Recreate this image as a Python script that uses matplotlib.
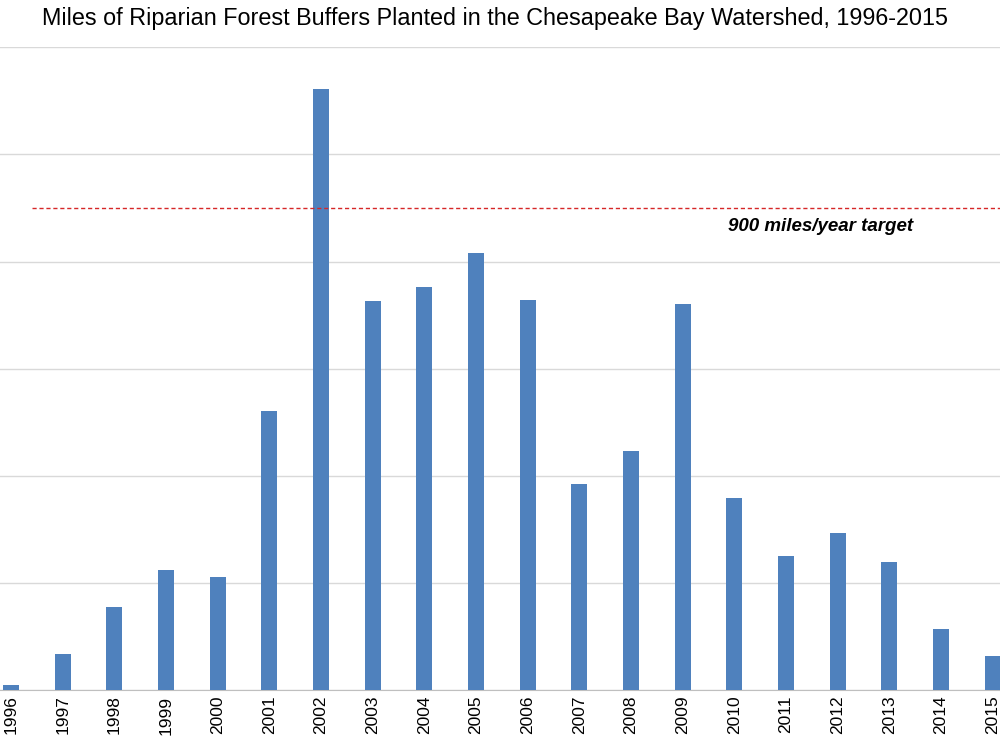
import matplotlib.pyplot as plt

years = [str(y) for y in range(1996, 2016)]
miles = [9, 67, 155, 224, 211, 520, 1122, 727, 753, 815, 729, 384, 447, 721, 358, 250, 294, 239, 114, 63]
target = 900

fig = plt.figure(figsize=(10, 7.5), dpi=100)
ax = fig.add_axes([0, 0.08, 1, 0.857])
x = list(range(len(years)))
ax.bar(x, miles, width=0.31, color='#4f81bd', zorder=3)
ax.set_xlim(-0.213, 19.14)
ax.set_ylim(0, 1200)
ax.set_yticks(range(0, 1201, 200))
ax.yaxis.grid(True, color='#d9d9d9', linewidth=1, zorder=0)
ax.tick_params(axis='y', left=False, labelleft=False)
ax.set_xticks(x)
ax.set_xticklabels(years, rotation=90, fontsize=12.5, fontfamily='Liberation Sans')
ax.tick_params(axis='x', length=0, pad=4)
for s in ['top', 'right', 'left']:
    ax.spines[s].set_visible(False)
ax.spines['bottom'].set_color('#bfbfbf')
ax.axhline(target, xmin=0.032, xmax=1, color='#d62728', linestyle=(0, (3, 2)), linewidth=1, zorder=4)
ax.text(15.67, target - 18, '900 miles/year target', fontsize=13.5, fontweight='bold',
        fontstyle='italic', ha='center', va='top', fontfamily='Liberation Sans')
fig.text(0.495, 0.975, 'Miles of Riparian Forest Buffers Planted in the Chesapeake Bay Watershed, 1996-2015',
         ha='center', va='center', fontsize=16.8, fontfamily='Liberation Sans')
fig.savefig('out.png')
